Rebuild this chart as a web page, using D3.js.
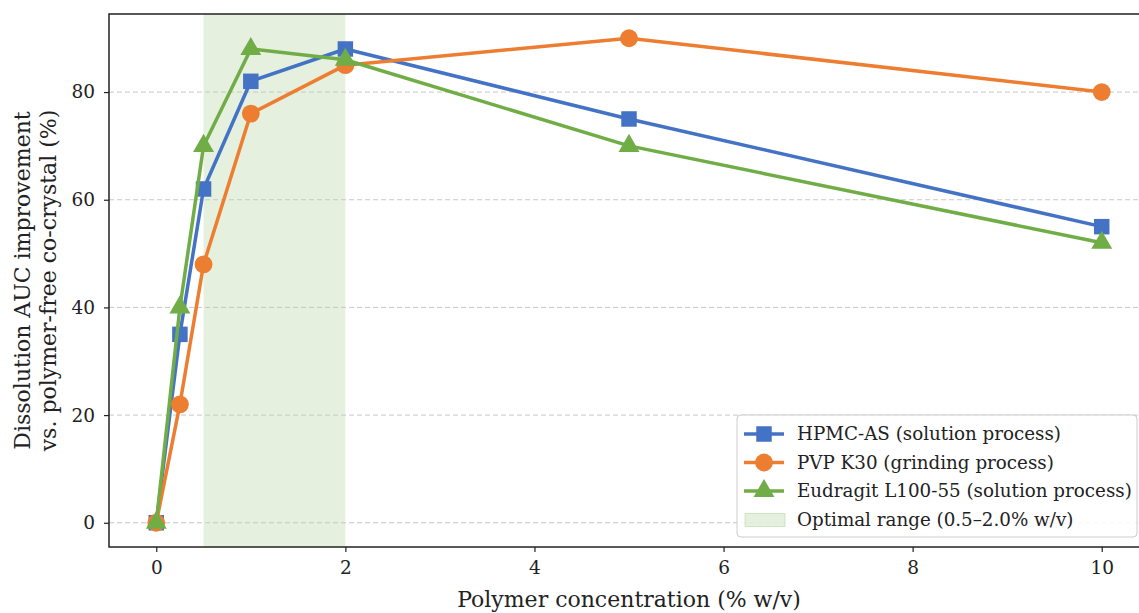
<!DOCTYPE html>
<html>
<head>
<meta charset="utf-8">
<script src="https://cdn.jsdelivr.net/npm/d3@7"></script>
<style>
  body { margin: 0; background: #fff; }
  svg { font-family: "DejaVu Serif", serif; }
</style>
</head>
<body>
<div id="chart"></div>
<script>
// data
const concentrations = [0, 0.25, 0.5, 1, 2, 5, 10];
const hpmcValues = [0, 35, 62, 82, 88, 75, 55];
const pvpValues = [0, 22, 48, 76, 85, 90, 80];
const eudragitValues = [0, 40, 70, 88, 86, 70, 52];
const seriesNames = ["HPMC-AS (solution process)", "PVP K30 (grinding process)", "Eudragit L100-55 (solution process)"];
const optimalRange = [0.5, 2.0];
const optimalLabel = "Optimal range (0.5\u20132.0% w/v)";
const xTicks = [0, 2, 4, 6, 8, 10];
const yTicks = [0, 20, 40, 60, 80];

const width = 1139, height = 613;
const margin = {top: 14, right: -10, bottom: 66, left: 109};
const innerW = width - margin.left - margin.right,
      innerH = height - margin.top - margin.bottom;

const svg = d3.select("#chart").append("svg")
    .attr("width", width)
    .attr("height", height);
const g = svg.append("g")
    .attr("transform", `translate(${margin.left},${margin.top})`);

const x = d3.scaleLinear().domain([-0.5, 10.5]).range([0, innerW]);
const y = d3.scaleLinear().domain([-4.5, 94.5]).range([innerH, 0]);

// shaded optimal range
g.append("rect")
    .attr("x", x(optimalRange[0]))
    .attr("width", x(optimalRange[1]) - x(optimalRange[0]))
    .attr("y", 0)
    .attr("height", innerH)
    .attr("fill", "#70AD47")
    .attr("fill-opacity", 0.18);

// grid
g.selectAll(".grid").data(yTicks).join("line")
    .attr("x1", 0).attr("x2", innerW)
    .attr("y1", d => y(d)).attr("y2", d => y(d))
    .attr("stroke", "#c8c8c8")
    .attr("stroke-width", 1)
    .attr("stroke-dasharray", "5,3");

const series = [
  {name: seriesNames[0], values: hpmcValues, color: "#4472C4", symbol: d3.symbolSquare, size: 240},
  {name: seriesNames[1], values: pvpValues, color: "#ED7D31", symbol: d3.symbolCircle, size: 250},
  {name: seriesNames[2], values: eudragitValues, color: "#70AD47", symbol: d3.symbolTriangle, size: 190}
];

const line = d3.line()
    .x(d => x(d[0]))
    .y(d => y(d[1]));

series.forEach(s => {
  const pts = concentrations.map((c, i) => [c, s.values[i]]);
  g.append("path")
      .datum(pts)
      .attr("fill", "none")
      .attr("stroke", s.color)
      .attr("stroke-width", 3.5)
      .attr("stroke-linejoin", "round")
      .attr("d", line);
  g.selectAll(null).data(pts).join("path")
      .attr("transform", d => `translate(${x(d[0])},${y(d[1])})`)
      .attr("d", d3.symbol().type(s.symbol).size(s.size))
      .attr("fill", s.color);
});

// axes
const xAxis = g.append("g")
    .attr("transform", `translate(0,${innerH})`)
    .call(d3.axisBottom(x).tickValues(xTicks).tickSize(5).tickPadding(9));
const yAxis = g.append("g")
    .call(d3.axisLeft(y).tickValues(yTicks).tickSize(5).tickPadding(9));
[xAxis, yAxis].forEach(a => {
  a.selectAll("text").attr("font-size", 18.5).attr("fill", "#222").attr("font-family", "DejaVu Serif");
  a.selectAll("line").attr("stroke", "#222").attr("stroke-width", 1.2);
  a.select(".domain").remove();
});

// frame
g.append("rect")
    .attr("width", innerW).attr("height", innerH)
    .attr("fill", "none")
    .attr("stroke", "#222")
    .attr("stroke-width", 1.5);

// axis labels
svg.append("text")
    .attr("x", margin.left + innerW / 2)
    .attr("y", 607)
    .attr("text-anchor", "middle")
    .attr("font-size", 22)
    .attr("fill", "#222")
    .text("Polymer concentration (% w/v)");

const yl = svg.append("text")
    .attr("transform", `translate(30,${margin.top + innerH / 2}) rotate(-90)`)
    .attr("text-anchor", "middle")
    .attr("font-size", 22)
    .attr("fill", "#222");
yl.append("tspan").attr("x", 0).attr("dy", 0).text("Dissolution AUC improvement");
yl.append("tspan").attr("x", 0).attr("dy", 26).text("vs. polymer-free co-crystal (%)");

// legend
const lg = svg.append("g").attr("transform", "translate(737,415)");
lg.append("rect")
    .attr("width", 400).attr("height", 122)
    .attr("rx", 4)
    .attr("fill", "#fff").attr("fill-opacity", 0.85)
    .attr("stroke", "#ccc");
series.forEach((s, i) => {
  const cy = 19 + i * 28.5;
  lg.append("line")
      .attr("x1", 7).attr("x2", 47)
      .attr("y1", cy).attr("y2", cy)
      .attr("stroke", s.color).attr("stroke-width", 3.5);
  lg.append("path")
      .attr("transform", `translate(27,${cy})`)
      .attr("d", d3.symbol().type(s.symbol).size(s.size))
      .attr("fill", s.color);
  lg.append("text")
      .attr("x", 60).attr("y", cy)
      .attr("dy", "0.35em")
      .attr("font-size", 18.3)
      .attr("fill", "#222")
      .text(s.name);
});
const cy4 = 19 + 3 * 28.5;
lg.append("rect")
    .attr("x", 8).attr("y", cy4 - 6)
    .attr("width", 40).attr("height", 13)
    .attr("fill", "#70AD47").attr("fill-opacity", 0.18)
    .attr("stroke", "#70AD47").attr("stroke-opacity", 0.25);
lg.append("text")
    .attr("x", 60).attr("y", cy4)
    .attr("dy", "0.35em")
    .attr("font-size", 18.3)
    .attr("fill", "#222")
    .text(optimalLabel);
</script>
</body>
</html>
